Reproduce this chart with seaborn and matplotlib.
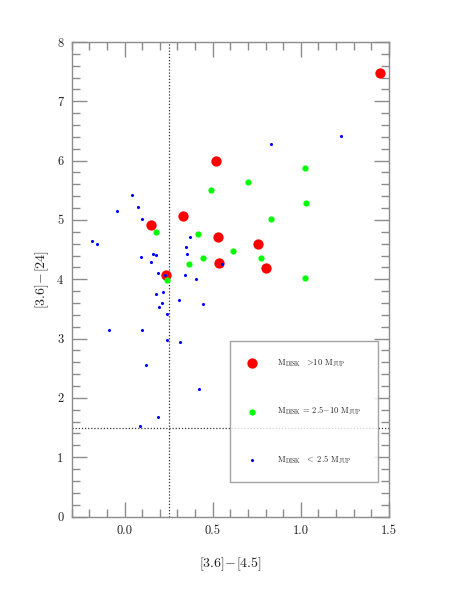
import matplotlib
matplotlib.use("Agg")
import matplotlib.pyplot as plt
import seaborn as sns
import pandas as pd

# ---- data ----
red_x = [1.447, 0.520, 0.333, 0.150, 0.528, 0.759, 0.537, 0.800, 0.237]
red_y = [7.47, 5.99, 5.07, 4.91, 4.71, 4.59, 4.28, 4.19, 4.08]

green_x = [1.025, 0.698, 0.492, 1.031, 0.829, 0.180, 0.415, 0.614, 0.445, 0.772, 0.367, 1.025, 0.238]
green_y = [5.88, 5.64, 5.50, 5.28, 5.01, 4.79, 4.77, 4.47, 4.36, 4.36, 4.25, 4.02, 3.98]

blue_x = [1.229, 0.830, 0.044, 0.078, -0.041, 0.101, -0.183, -0.158, 0.369, 0.348,
          0.352, 0.163, 0.180, 0.093, 0.148, 0.550, 0.190, 0.228, 0.340, 0.404,
          0.216, 0.178, 0.307, 0.214, 0.443, 0.195, 0.242, -0.090, 0.097, 0.242,
          0.316, 0.120, 0.420, 0.190, 0.089]
blue_y = [6.41, 6.28, 5.42, 5.22, 5.15, 5.02, 4.65, 4.60, 4.71, 4.55,
          4.43, 4.43, 4.41, 4.38, 4.29, 4.25, 4.11, 4.07, 4.07, 4.00,
          3.79, 3.75, 3.65, 3.60, 3.59, 3.54, 3.42, 3.14, 3.15, 2.98,
          2.94, 2.56, 2.15, 1.68, 1.53]

labels = [r'$\mathrm{M_{DISK}}\ \ >\!$10 $\mathrm{M_{JUP}}$',
          r'$\mathrm{M_{DISK}}$ = 2.5$-$10 $\mathrm{M_{JUP}}$',
          r'$\mathrm{M_{DISK}}\ \ <$ 2.5 $\mathrm{M_{JUP}}$']

x_cut = 0.25
y_cut = 1.5
x_ticks = [0.0, 0.5, 1.0, 1.5]
y_ticks = [0, 1, 2, 3, 4, 5, 6, 7, 8]

sns.set_style("ticks")
plt.rcParams['font.family'] = ['cmr10', 'DejaVu Serif']
plt.rcParams['mathtext.fontset'] = 'cm'
plt.rcParams['axes.unicode_minus'] = False
plt.rcParams['axes.formatter.use_mathtext'] = True

fig = plt.figure(figsize=(4.57, 5.91), dpi=100)
ax = fig.add_axes([0.157, 0.126, 0.694, 0.803])

gray = '#8c8c8c'

df_r = pd.DataFrame({'x': red_x, 'y': red_y})
df_g = pd.DataFrame({'x': green_x, 'y': green_y})
df_b = pd.DataFrame({'x': blue_x, 'y': blue_y})

sns.scatterplot(data=df_r, x='x', y='y', ax=ax, color='#ff0000', s=55,
                linewidth=0, label=labels[0], zorder=3)
sns.scatterplot(data=df_g, x='x', y='y', ax=ax, color='#00ff00', s=20,
                linewidth=0, label=labels[1], zorder=4)
sns.scatterplot(data=df_b, x='x', y='y', ax=ax, color='#0000ff', s=5,
                linewidth=0, label=labels[2], zorder=5)

ax.axvline(x_cut, color='#333333', linestyle=(0, (1, 1.5)), linewidth=0.9, zorder=2)
ax.axhline(y_cut, color='#333333', linestyle=(0, (1, 1.5)), linewidth=0.9, zorder=2)

ax.set_xlim(-0.3, 1.5)
ax.set_ylim(0, 8)
ax.set_xticks(x_ticks)
ax.set_xticklabels([f'{t:.1f}' for t in x_ticks])
ax.set_yticks(y_ticks)
ax.set_yticklabels([str(t) for t in y_ticks])
ax.xaxis.set_minor_locator(matplotlib.ticker.MultipleLocator(0.1))
ax.yaxis.set_minor_locator(matplotlib.ticker.MultipleLocator(0.2))

ax.tick_params(which='both', direction='in', top=True, right=True, color=gray,
               labelcolor='#222222', width=1.0)
ax.tick_params(which='major', length=11, labelsize=9, pad=6)
ax.tick_params(which='minor', length=6)
for sp in ax.spines.values():
    sp.set_color(gray)
    sp.set_linewidth(1.0)

ax.set_xlabel(r'$[3.6]\!-\![4.5]$', fontsize=10, color='#222222')
ax.set_ylabel(r'$[3.6]\!-\![24]$', fontsize=10, color='#222222')
ax.xaxis.set_label_coords(0.5, -0.081)
ax.yaxis.set_label_coords(-0.065, 0.5)

leg = ax.legend(loc='upper left', bbox_to_anchor=(0.6, 2.96), bbox_transform=ax.transData,
                frameon=True, fancybox=False, fontsize=6, borderpad=2.0,
                labelspacing=4.3, handlelength=1.27, handletextpad=2.36,
                scatterpoints=1, borderaxespad=0)
leg.get_frame().set_edgecolor(gray)
leg.get_frame().set_linewidth(1.0)

fig.savefig('out.png', dpi=100)
